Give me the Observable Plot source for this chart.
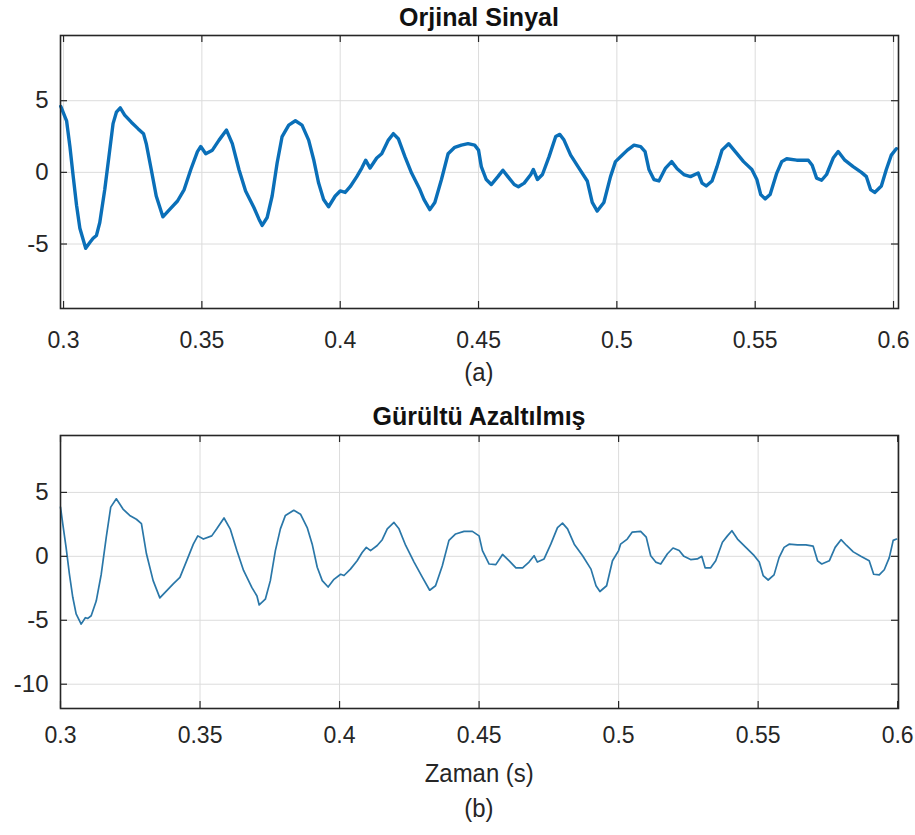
<!DOCTYPE html>
<html>
<head>
<meta charset="utf-8">
<script src="https://cdn.jsdelivr.net/npm/d3@7"></script>
<script src="https://cdn.jsdelivr.net/npm/@observablehq/plot@0.6"></script>
<style>
  html, body { margin: 0; padding: 0; background: #fff; }
  #wrap { position: relative; width: 915px; height: 835px; overflow: hidden; background: #fff;
          font-family: "Liberation Sans", Arial, Helvetica, sans-serif; color: #262626; }
  .panel { position: absolute; left: 0; z-index: 1; }
  .title { position: absolute; left: 60px; width: 838px; text-align: center; font-weight: bold;
           font-size: 25px; line-height: 25px; color: #111; z-index: 2; }
  .cap { position: absolute; left: 60px; width: 838px; text-align: center; font-size: 26px;
         line-height: 26px; color: #262626; z-index: 2; }
  .cap span { display: inline-block; transform: scaleX(0.92); }
</style>
</head>
<body>
<div id="wrap">
  <div class="panel" id="p1" style="top:0px"></div>
  <div class="panel" id="p2" style="top:400px"></div>
  <div class="title" style="top:5px">Orjinal Sinyal</div>
  <div class="cap" style="top:359px"><span>(a)</span></div>
  <div class="title" style="top:404px">Gürültü Azaltılmış</div>
  <div class="cap" style="top:760px"><span>Zaman (s)</span></div>
  <div class="cap" style="top:795px"><span>(b)</span></div>
</div>
<script>
// ---- axis ticks and labels ----
const xTicks = [0.3, 0.35, 0.4, 0.45, 0.5, 0.55, 0.6];
const xTickLabels = ["0.3", "0.35", "0.4", "0.45", "0.5", "0.55", "0.6"];
const yTicksTop = [-5, 0, 5];
const yTickLabelsTop = ["-5", "0", "5"];
const yTicksBottom = [-10, -5, 0, 5];
const yTickLabelsBottom = ["-10", "-5", "0", "5"];

// ---- original signal (a) ----
const timeOriginal = [
  0.2990, 0.3011, 0.3023, 0.3035, 0.3047, 0.3059, 0.3080, 0.3095, 0.3107, 0.3119,
  0.3131, 0.3149, 0.3164, 0.3179, 0.3191, 0.3205, 0.3221, 0.3245, 0.3269, 0.3289,
  0.3299, 0.3317, 0.3335, 0.3359, 0.3383, 0.3412, 0.3436, 0.3460, 0.3484, 0.3496,
  0.3514, 0.3538, 0.3562, 0.3589, 0.3610, 0.3634, 0.3658, 0.3688, 0.3706, 0.3718,
  0.3736, 0.3754, 0.3772, 0.3790, 0.3814, 0.3838, 0.3862, 0.3886, 0.3904, 0.3922,
  0.3940, 0.3958, 0.3982, 0.4000, 0.4018, 0.4036, 0.4060, 0.4078, 0.4092, 0.4108,
  0.4132, 0.4150, 0.4174, 0.4192, 0.4210, 0.4234, 0.4258, 0.4288, 0.4303, 0.4324,
  0.4342, 0.4366, 0.4390, 0.4414, 0.4438, 0.4462, 0.4486, 0.4500, 0.4510, 0.4528,
  0.4546, 0.4570, 0.4588, 0.4606, 0.4629, 0.4644, 0.4665, 0.4689, 0.4698, 0.4713,
  0.4731, 0.4755, 0.4779, 0.4794, 0.4809, 0.4833, 0.4863, 0.4893, 0.4911, 0.4929,
  0.4953, 0.4977, 0.4995, 0.5014, 0.5038, 0.5062, 0.5086, 0.5102, 0.5116, 0.5134,
  0.5152, 0.5176, 0.5198, 0.5218, 0.5242, 0.5266, 0.5294, 0.5308, 0.5323, 0.5344,
  0.5362, 0.5380, 0.5404, 0.5428, 0.5458, 0.5488, 0.5506, 0.5520, 0.5536, 0.5554,
  0.5578, 0.5596, 0.5614, 0.5650, 0.5692, 0.5706, 0.5722, 0.5740, 0.5758, 0.5782,
  0.5800, 0.5824, 0.5854, 0.5884, 0.5902, 0.5917, 0.5932, 0.5956, 0.5974, 0.5992,
  0.6010
];
const valueOriginal = [
  4.6, 3.6, 1.8, -0.3, -2.3, -3.9, -5.3, -4.9, -4.6, -4.4,
  -3.5, -1.2, 1.1, 3.4, 4.2, 4.5, 4.0, 3.5, 3.05, 2.7,
  2.0, 0.2, -1.65, -3.1, -2.6, -2.0, -1.2, 0.2, 1.45, 1.8,
  1.3, 1.55, 2.25, 2.95, 2.0, 0.2, -1.3, -2.45, -3.25, -3.7,
  -3.15, -1.65, 0.65, 2.5, 3.3, 3.6, 3.3, 2.25, 0.9, -0.75,
  -1.9, -2.4, -1.65, -1.3, -1.4, -1.0, -0.3, 0.3, 0.85, 0.3,
  1.0, 1.3, 2.25, 2.7, 2.35, 1.1, -0.05, -1.2, -1.9, -2.6,
  -2.1, -0.5, 1.3, 1.75, 1.9, 2.0, 1.9, 1.55, 0.4, -0.5,
  -0.85, -0.3, 0.15, -0.3, -0.85, -1.0, -0.75, -0.15, 0.2, -0.5,
  -0.15, 1.1, 2.5, 2.65, 2.25, 1.2, 0.3, -0.6, -2.1, -2.7,
  -2.1, -0.3, 0.75, 1.1, 1.55, 1.9, 1.8, 1.45, 0.2, -0.5,
  -0.6, 0.3, 0.75, 0.25, -0.15, -0.3, -0.05, -0.75, -0.95, -0.6,
  0.4, 1.55, 2.0, 1.45, 0.75, 0.2, -0.5, -1.55, -1.85, -1.55,
  -0.05, 0.75, 0.95, 0.85, 0.85, 0.5, -0.4, -0.55, -0.15, 1.0,
  1.45, 0.85, 0.4, 0.0, -0.3, -1.2, -1.4, -0.95, 0.2, 1.2,
  1.65
];

// ---- denoised signal (b) ----
const timeDenoised = [
  0.3000, 0.3008, 0.3020, 0.3032, 0.3044, 0.3056, 0.3074, 0.3089, 0.3098, 0.3110,
  0.3128, 0.3146, 0.3164, 0.3180, 0.3200, 0.3224, 0.3248, 0.3272, 0.3290, 0.3308,
  0.3332, 0.3356, 0.3380, 0.3404, 0.3428, 0.3452, 0.3476, 0.3492, 0.3512, 0.3542,
  0.3560, 0.3586, 0.3608, 0.3632, 0.3656, 0.3686, 0.3704, 0.3712, 0.3734, 0.3752,
  0.3770, 0.3788, 0.3806, 0.3836, 0.3860, 0.3884, 0.3902, 0.3920, 0.3938, 0.3959,
  0.3980, 0.4004, 0.4016, 0.4039, 0.4063, 0.4081, 0.4096, 0.4111, 0.4135, 0.4153,
  0.4171, 0.4195, 0.4213, 0.4237, 0.4267, 0.4297, 0.4323, 0.4344, 0.4368, 0.4392,
  0.4416, 0.4446, 0.4476, 0.4500, 0.4512, 0.4536, 0.4560, 0.4584, 0.4608, 0.4632,
  0.4656, 0.4679, 0.4697, 0.4709, 0.4733, 0.4757, 0.4781, 0.4799, 0.4817, 0.4841,
  0.4871, 0.4901, 0.4919, 0.4933, 0.4957, 0.4978, 0.5000, 0.5007, 0.5031, 0.5049,
  0.5079, 0.5099, 0.5115, 0.5133, 0.5151, 0.5175, 0.5195, 0.5217, 0.5234, 0.5258,
  0.5282, 0.5298, 0.5310, 0.5330, 0.5348, 0.5372, 0.5390, 0.5406, 0.5426, 0.5456,
  0.5486, 0.5504, 0.5518, 0.5536, 0.5557, 0.5575, 0.5593, 0.5611, 0.5641, 0.5671,
  0.5697, 0.5713, 0.5728, 0.5755, 0.5776, 0.5797, 0.5817, 0.5841, 0.5868, 0.5898,
  0.5914, 0.5934, 0.5952, 0.5970, 0.5984, 0.5996
];
const valueDenoised = [
  3.85, 2.55, 0.7, -1.4, -3.2, -4.5, -5.3, -4.8, -4.85, -4.65,
  -3.5, -1.4, 1.5, 3.85, 4.5, 3.7, 3.2, 2.9, 2.55, 0.2,
  -1.9, -3.25, -2.7, -2.15, -1.65, -0.35, 0.95, 1.6, 1.35, 1.6,
  2.15, 3.0, 2.15, 0.45, -1.1, -2.45, -3.1, -3.8, -3.35, -1.9,
  0.45, 2.15, 3.2, 3.6, 3.3, 2.25, 0.95, -0.85, -1.9, -2.4,
  -1.8, -1.4, -1.5, -1.0, -0.35, 0.3, 0.7, 0.45, 0.85, 1.3,
  2.15, 2.65, 2.15, 0.85, -0.45, -1.65, -2.65, -2.3, -0.75, 1.25,
  1.75, 1.95, 1.95, 1.6, 0.45, -0.6, -0.65, 0.15, -0.35, -0.9,
  -0.9, -0.45, 0.05, -0.45, -0.2, 0.95, 2.25, 2.6, 2.15, 0.95,
  0.05, -1.0, -2.3, -2.75, -2.3, -0.35, 0.45, 0.95, 1.35, 1.9,
  1.95, 1.5, 0.05, -0.45, -0.6, 0.2, 0.65, 0.45, 0.0, -0.25,
  -0.2, 0.0, -0.9, -0.9, -0.35, 1.1, 1.6, 2.0, 1.35, 0.7,
  0.05, -0.45, -1.5, -1.85, -1.45, -0.1, 0.7, 0.95, 0.9, 0.9,
  0.8, -0.35, -0.6, -0.35, 0.7, 1.3, 0.85, 0.35, 0.0, -0.35,
  -1.4, -1.45, -1.05, -0.1, 1.25, 1.35
];

function panel({times, values, xDomain, yDomain, yTicks, yTickLabels, color, strokeWidth, xPad}) {
  const W = 915, H = 360, mt = 35, mb = 52, ml = 60, mr = 17;
  const ph = H - mt - mb, pw = W - ml - mr, tk = 7;
  const data = times.map((t, i) => ({t, v: values[i]}));
  const frameColor = "#262626";
  return Plot.plot({
    width: W, height: H,
    marginTop: mt, marginBottom: mb, marginLeft: ml, marginRight: mr,
    style: {fontFamily: '"Liberation Sans", Arial, Helvetica, sans-serif', fontSize: "24px",
            color: "#262626", background: "transparent", overflow: "visible"},
    x: {domain: xDomain, label: null},
    y: {domain: yDomain, label: null},
    marks: [
      Plot.gridX(xTicks, {stroke: "#dcdcdc", strokeOpacity: 1, strokeWidth: 1}),
      Plot.gridY(yTicks, {stroke: "#dcdcdc", strokeOpacity: 1, strokeWidth: 1}),
      Plot.line(data, {x: "t", y: "v", stroke: color, strokeWidth, strokeLinejoin: "round"}),
      Plot.tickX(xTicks, {x: d => d, insetTop: ph - tk, stroke: frameColor, strokeWidth: 1.2}),
      Plot.tickX(xTicks, {x: d => d, insetBottom: ph - tk, stroke: frameColor, strokeWidth: 1.2}),
      Plot.tickY(yTicks, {y: d => d, insetRight: pw - tk, stroke: frameColor, strokeWidth: 1.2}),
      Plot.tickY(yTicks, {y: d => d, insetLeft: pw - tk, stroke: frameColor, strokeWidth: 1.2}),
      Plot.axisX(xTicks, {tickSize: 0, tickPadding: xPad, fill: "#262626", label: null,
        fontSize: 23, tickFormat: d => xTickLabels[xTicks.indexOf(d)]}),
      Plot.axisY(yTicks, {tickSize: 0, tickPadding: 12, fill: "#262626", label: null,
        tickFormat: d => yTickLabels[yTicks.indexOf(d)]}),
      Plot.frame({stroke: frameColor, strokeWidth: 1.6})
    ]
  });
}

const p1 = panel({times: timeOriginal, values: valueOriginal, xDomain: [0.2989, 0.6018],
  yDomain: [-9.5, 9.55], yTicks: yTicksTop, yTickLabels: yTickLabelsTop,
  color: "#0a6fb8", strokeWidth: 3.4, xPad: 23});
const p2 = panel({times: timeDenoised, values: valueDenoised, xDomain: [0.3, 0.6003],
  yDomain: [-11.9, 9.45], yTicks: yTicksBottom, yTickLabels: yTickLabelsBottom,
  color: "#2a77a8", strokeWidth: 1.7, xPad: 18});
document.getElementById("p1").appendChild(p1);
document.getElementById("p2").appendChild(p2);
</script>
</body>
</html>
